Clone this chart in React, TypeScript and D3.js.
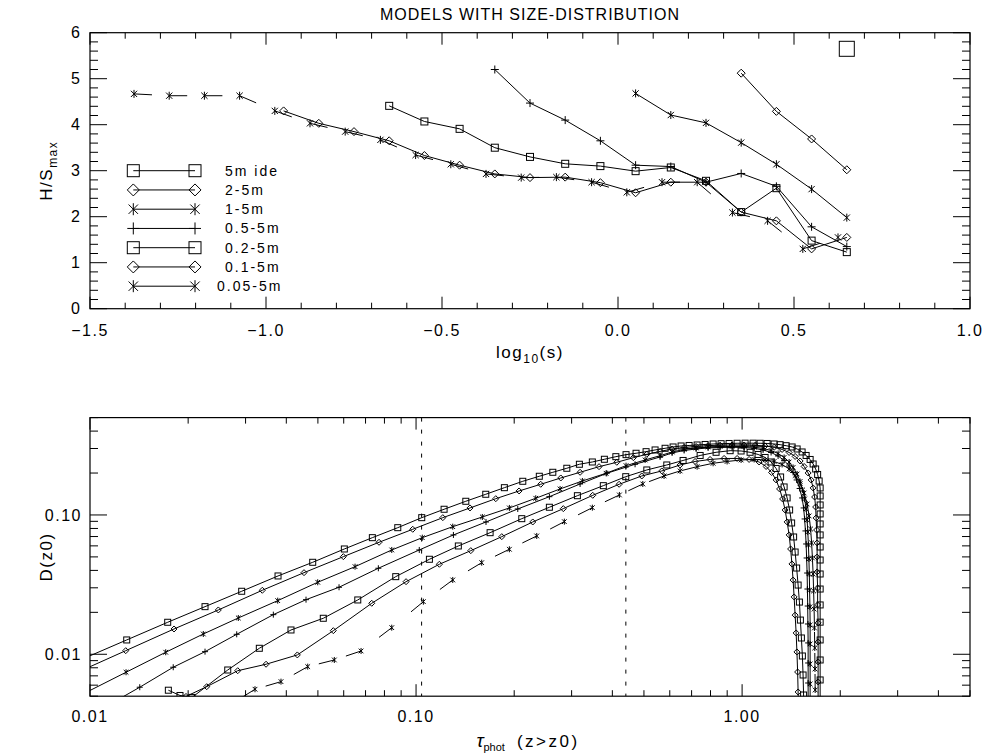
import React from "react";
import * as d3 from "d3";

const TITLE = "MODELS WITH SIZE-DISTRIBUTION";
const legendNames = ["5m ide", "2-5m", "1-5m", "0.5-5m", "0.2-5m", "0.1-5m", "0.05-5m"];
const markerTypes = ["square", "diamond", "asterisk", "plus", "square", "diamond", "asterisk"];

// ---------- top panel: H/S_max vs log10(s)
const top5mIdeX = [0.65];
const top5mIdeY = [5.65];
const top2_5X = [0.35, 0.45, 0.55, 0.65];
const top2_5Y = [5.12, 4.29, 3.69, 3.02];
const top1_5X = [0.05, 0.15, 0.25, 0.35, 0.45, 0.55, 0.65];
const top1_5Y = [4.68, 4.21, 4.04, 3.61, 3.14, 2.6, 1.98];
const top05_5X = [-0.35, -0.25, -0.15, -0.05, 0.05, 0.15, 0.25, 0.35, 0.45, 0.55, 0.65];
const top05_5Y = [5.2, 4.47, 4.1, 3.65, 3.12, 3.09, 2.75, 2.94, 2.66, 1.78, 1.35];
const top02_5X = [-0.65, -0.55, -0.45, -0.35, -0.25, -0.15, -0.05, 0.05, 0.15, 0.25, 0.35, 0.45, 0.55, 0.65];
const top02_5Y = [4.41, 4.07, 3.91, 3.5, 3.3, 3.15, 3.1, 2.99, 3.07, 2.78, 2.1, 2.62, 1.48, 1.23];
const top01_5X = [-0.95, -0.85, -0.75, -0.65, -0.55, -0.45, -0.35, -0.25, -0.15, -0.05, 0.05, 0.15, 0.25, 0.35, 0.45, 0.55, 0.65];
const top01_5Y = [4.3, 4.03, 3.85, 3.65, 3.33, 3.12, 2.93, 2.85, 2.86, 2.74, 2.52, 2.75, 2.75, 2.1, 1.91, 1.3, 1.55];
const top005_5X = [-1.375, -1.275, -1.175, -1.075, -0.975, -0.875, -0.775, -0.675, -0.575, -0.475, -0.375, -0.275, -0.175, -0.075, 0.025, 0.125, 0.225, 0.325, 0.425, 0.525, 0.625];
const top005_5Y = [4.67, 4.63, 4.63, 4.63, 4.3, 4.03, 3.85, 3.67, 3.34, 3.14, 2.93, 2.85, 2.86, 2.75, 2.53, 2.75, 2.75, 2.09, 1.91, 1.3, 1.55];

const topXTickValues = [-1.5, -1.0, -0.5, 0, 0.5, 1.0];
const topXTickLabels = ["\u22121.5", "\u22121.0", "\u22120.5", "0.0", "0.5", "1.0"];
const topYTickValues = [0, 1, 2, 3, 4, 5, 6];
const topYTickLabels = ["0", "1", "2", "3", "4", "5", "6"];

// ---------- bottom panel: D(z0) vs tau_phot  [tau, D]
const bot5mIde = [[0.00945,0.00921],[0.01296,0.01267],[0.01731,0.01697],[0.02253,0.02197],[0.02919,0.02833],[0.03773,0.03649],[0.0482,0.04574],[0.06027,0.057],[0.07345,0.06871],[0.08789,0.08105],[0.1041,0.09563],[0.1219,0.1099],[0.1421,0.1254],[0.1636,0.1408],[0.1866,0.157],[0.2125,0.1745],[0.2388,0.1896],[0.2627,0.2025],[0.29,0.2164],[0.3169,0.2312],[0.3473,0.2401],[0.3781,0.2511],[0.41,0.2621],[0.4406,0.271],[0.4729,0.2773],[0.5076,0.2847],[0.5409,0.2929],[0.5805,0.3011],[0.6142,0.3077],[0.65,0.3128],[0.6878,0.3154],[0.7278,0.318],[0.77,0.3207],[0.8149,0.3233],[0.8622,0.3249],[0.9122,0.326],[0.9653,0.3271],[1.0214,0.3276],[1.0807,0.3276],[1.1356,0.3271],[1.1933,0.326],[1.2537,0.3233],[1.3079,0.3196],[1.3646,0.3143],[1.4237,0.3077],[1.4749,0.2977],[1.5277,0.2833],[1.5716,0.2674],[1.6168,0.2503],[1.6514,0.2323],[1.681,0.2139],[1.7048,0.1953],[1.723,0.1754],[1.7353,0.1563],[1.7353,0.1369],[1.7353,0.118],[1.7353,0.1017],[1.7353,0.0862],[1.7353,0.0719],[1.7353,0.0589],[1.7353,0.0475],[1.7353,0.0377],[1.7353,0.0294],[1.7353,0.0226],[1.7353,0.017],[1.7353,0.01267],[1.7353,0.0091],[1.7353,0.00654],[1.7353,0.0047]];
const bot2_5 = [[0.00945,0.00767],[0.01287,0.01061],[0.0181,0.01519],[0.02475,0.0208],[0.03377,0.0288],[0.04533,0.03853],[0.05984,0.05019],[0.077,0.06368],[0.0977,0.07893],[0.1208,0.09563],[0.1464,0.1123],[0.1756,0.1309],[0.207,0.1487],[0.2412,0.1661],[0.2779,0.1843],[0.3185,0.2025],[0.3641,0.2222],[0.4128,0.2389],[0.464,0.2578],[0.5102,0.2727],[0.5604,0.2857],[0.61,0.2977],[0.664,0.3052],[0.7226,0.3103],[0.7865,0.3144],[0.856,0.317],[0.9318,0.318],[1.0141,0.318],[1.0962,0.3165],[1.1764,0.3128],[1.2537,0.3062],[1.3266,0.2953],[1.3939,0.2809],[1.4543,0.263],[1.5064,0.2441],[1.5497,0.2229],[1.5941,0.2002],[1.6283,0.1784],[1.6514,0.1563],[1.669,0.1346],[1.681,0.1141],[1.6866,0.0952],[1.6925,0.078],[1.6985,0.063],[1.6985,0.0499],[1.6985,0.039],[1.7045,0.0299],[1.7045,0.0226],[1.7105,0.0168],[1.7105,0.01225],[1.7105,0.00881],[1.7105,0.00633],[1.7105,0.00454]];
const bot1_5 = [[0.00945,0.00514],[0.0129,0.00743],[0.01707,0.01034],[0.02226,0.01398],[0.0285,0.01822],[0.03765,0.02426],[0.04994,0.03287],[0.065,0.04255],[0.08424,0.05607],[0.1045,0.06871],[0.1296,0.08241],[0.1597,0.09674],[0.1933,0.1123],[0.2329,0.1318],[0.2765,0.1537],[0.3237,0.1754],[0.3827,0.1992],[0.4406,0.2259],[0.5041,0.2482],[0.5604,0.2665],[0.61,0.2833],[0.664,0.2953],[0.7226,0.3027],[0.7865,0.3077],[0.856,0.3103],[0.9318,0.3113],[1.0141,0.3103],[1.0884,0.3066],[1.1598,0.3001],[1.2272,0.2904],[1.2893,0.2763],[1.3454,0.2587],[1.3939,0.2401],[1.4336,0.2193],[1.4749,0.1969],[1.5064,0.174],[1.5334,0.1512],[1.5551,0.1303],[1.5716,0.1104],[1.5828,0.0921],[1.5905,0.0755],[1.5974,0.0609],[1.6029,0.0483],[1.6074,0.0377],[1.611,0.0289],[1.6144,0.0219],[1.6168,0.0162],[1.6168,0.01186],[1.6168,0.00852],[1.6168,0.00612],[1.6168,0.0044]];
const bot05_5 = [[0.01112,0.00418],[0.01421,0.0058],[0.018,0.00807],[0.02253,0.01044],[0.02818,0.01391],[0.0365,0.01925],[0.04598,0.02466],[0.05805,0.03027],[0.07663,0.04144],[0.1023,0.05607],[0.1302,0.07185],[0.1639,0.08906],[0.2051,0.1104],[0.2564,0.1353],[0.3185,0.1669],[0.3846,0.1992],[0.4696,0.2312],[0.5604,0.2608],[0.61,0.2787],[0.664,0.2904],[0.7226,0.2977],[0.7865,0.3027],[0.856,0.3052],[0.9318,0.3062],[1.0141,0.3052],[1.0884,0.3011],[1.1598,0.2929],[1.2272,0.2809],[1.2893,0.2651],[1.3454,0.2463],[1.3939,0.2247],[1.4336,0.2019],[1.4698,0.1784],[1.5012,0.1549],[1.5277,0.1325],[1.5443,0.1123],[1.5551,0.0936],[1.5641,0.0768],[1.5716,0.0619],[1.5772,0.0491],[1.5828,0.0383],[1.5861,0.0294],[1.5894,0.0222],[1.5917,0.0165],[1.5941,0.01206],[1.5941,0.00866],[1.5941,0.00622],[1.5941,0.00447]];
const bot02_5 = [[0.01739,0.00552],[0.01888,0.00506],[0.02055,0.0049],[0.02645,0.00771],[0.03306,0.01104],[0.04135,0.01494],[0.05194,0.01813],[0.06626,0.02454],[0.08664,0.03607],[0.1099,0.04808],[0.1348,0.0599],[0.1687,0.07462],[0.211,0.09406],[0.2564,0.1136],[0.3125,0.1375],[0.3753,0.1623],[0.4397,0.1883],[0.5102,0.2104],[0.5875,0.2285],[0.6592,0.2462],[0.7435,0.2674],[0.8321,0.2818],[0.9189,0.2894],[0.9929,0.2879],[1.058,0.2818],[1.1196,0.2719],[1.1764,0.2587],[1.2272,0.2401],[1.2716,0.2157],[1.3125,0.1874],[1.3454,0.1589],[1.3743,0.1325],[1.3988,0.1086],[1.4187,0.0876],[1.4388,0.0695],[1.4543,0.0542],[1.4698,0.0416],[1.4852,0.0314],[1.4989,0.0237],[1.5094,0.0176],[1.52,0.01309],[1.5307,0.00972],[1.5382,0.0071],[1.5438,0.0051],[1.5497,0.00367]];
const bot01_5 = [[0.0197,0.00498],[0.0228,0.00585],[0.02838,0.00762],[0.03467,0.00848],[0.04324,0.00989],[0.05575,0.01477],[0.07313,0.02323],[0.09318,0.0332],[0.1179,0.04427],[0.1472,0.05543],[0.1832,0.06986],[0.228,0.08906],[0.2829,0.111],[0.3483,0.1384],[0.4196,0.1661],[0.4924,0.1905],[0.5672,0.207],[0.6454,0.2285],[0.7175,0.2421],[0.7976,0.2503],[0.8806,0.2545],[0.9653,0.2545],[1.0507,0.2503],[1.1275,0.2401],[1.1847,0.2229],[1.2314,0.2019],[1.2716,0.1784],[1.3032,0.1537],[1.3313,0.1303],[1.3549,0.1086],[1.3743,0.0891],[1.3939,0.0719],[1.4087,0.057],[1.4218,0.0445],[1.4336,0.0341],[1.4439,0.0258],[1.4543,0.0191],[1.4646,0.01422],[1.4729,0.01039],[1.4802,0.00746],[1.4852,0.00536],[1.4907,0.00385]];
const bot005_5 = [[0.02595,0.00412],[0.03207,0.00561],[0.03853,0.00636],[0.04654,0.00815],[0.05615,0.0091],[0.06782,0.01056],[0.08424,0.01552],[0.1053,0.02385],[0.1296,0.03415],[0.159,0.04545],[0.1933,0.05673],[0.2345,0.07067],[0.285,0.08952],[0.3473,0.1128],[0.4204,0.1392],[0.496,0.1669],[0.5763,0.1905],[0.6454,0.207],[0.7278,0.2222],[0.8149,0.235],[0.8995,0.2421],[0.9929,0.2482],[1.0884,0.2503],[1.1764,0.2482],[1.2537,0.2421],[1.3266,0.2304],[1.3938,0.2139],[1.4543,0.192],[1.5065,0.1683],[1.5497,0.1438],[1.5828,0.1199],[1.6051,0.0984],[1.6222,0.0793],[1.6338,0.063],[1.643,0.0491],[1.6512,0.0377],[1.6571,0.0285],[1.663,0.0211],[1.6668,0.01545],[1.6705,0.0111],[1.673,0.00784],[1.6755,0.00554],[1.6781,0.00385]];

const botXTickValues = [0.01, 0.1, 1];
const botXTickLabels = ["0.01", "0.10", "1.00"];
const botYTickValues = [0.01, 0.1];
const botYTickLabels = ["0.01", "0.10"];
const dottedTau = [0.104, 0.44];

// ---------- layout
const W = 987, H = 756;
const L = 90, R = 970;
const TT = 32.7, TB = 308.7;
const BT = 417.6, BB = 696.2;
const FONT = "'Liberation Sans', Arial, sans-serif";

const xTop = d3.scaleLinear().domain([-1.5, 1.0]).range([L, R]);
const yTop = d3.scaleLinear().domain([0, 6]).range([TB, TT]);
const xBot = d3.scaleLog().domain([0.01, 5]).range([L, R]);
const yBot = d3.scaleLog().domain([0.005, 0.5]).range([BB, BT]);

function Marker({ type, x, y, s }: { type: string; x: number; y: number; s: number }) {
  const h = s / 2;
  const st = { stroke: "#000", strokeWidth: 1, fill: "none" } as any;
  if (type === "square") return <rect x={x - h} y={y - h} width={s} height={s} {...st} />;
  if (type === "diamond")
    return <path d={`M${x},${y - h}L${x + h},${y}L${x},${y + h}L${x - h},${y}Z`} {...st} />;
  if (type === "plus") return <path d={`M${x - h},${y}H${x + h}M${x},${y - h}V${y + h}`} {...st} />;
  const a = h * 0.78;
  return (
    <path
      d={`M${x},${y - h}V${y + h}M${x - a},${y - a}L${x + a},${y + a}M${x - a},${y + a}L${x + a},${y - a}`}
      {...st}
    />
  );
}

function Series({ pts, type, size, dashed, dashAtEnd, dashLen }: any) {
  const line = d3.line();
  return (
    <g>
      {dashed ? (
        pts.slice(0, -1).map((p: number[], i: number) => {
          const q = pts[i + 1];
          const a = dashAtEnd ? q : p;
          const b = dashAtEnd ? p : q;
          return (
            <line key={i} x1={a[0]} y1={a[1]} x2={b[0]} y2={b[1]} stroke="#000" strokeWidth={1}
              strokeDasharray={`${dashLen} 1000`} />
          );
        })
      ) : (
        <path d={line(pts as any) || ""} fill="none" stroke="#000" strokeWidth={1} />
      )}
      {pts.map((p: number[], i: number) => (
        <Marker key={i} type={type} x={p[0]} y={p[1]} s={size} />
      ))}
    </g>
  );
}

export default function App() {
  const topData = [
    [top5mIdeX, top5mIdeY],
    [top2_5X, top2_5Y],
    [top1_5X, top1_5Y],
    [top05_5X, top05_5Y],
    [top02_5X, top02_5Y],
    [top01_5X, top01_5Y],
    [top005_5X, top005_5Y],
  ];
  const topSizes = [15, 8, 8, 8, 7, 8, 8];
  const botData = [bot5mIde, bot2_5, bot1_5, bot05_5, bot02_5, bot01_5, bot005_5];
  const botSizes = [6, 6, 6, 6, 6, 6, 6];

  const topXMinor = d3.range(-15, 11).map((i) => i / 10);
  const topYMinor = d3.range(0, 31).map((i) => i / 5);
  const botXMinor = xBot.ticks();
  const botYMinor = yBot.ticks();

  const tickStyle = { stroke: "#000", strokeWidth: 1 };
  const isMaj = (arr: number[], v: number) => arr.some((m) => Math.abs(m - v) < 1e-9);

  const xTicks = (scale: any, vals: number[], majors: number[], T: number, B: number) =>
    vals.map((v, i) => {
      const x = scale(v);
      const len = isMaj(majors, v) ? 12 : 6;
      return (
        <g key={"xt" + i}>
          <line x1={x} x2={x} y1={B} y2={B - len} {...tickStyle} />
          <line x1={x} x2={x} y1={T} y2={T + len} {...tickStyle} />
        </g>
      );
    });
  const yTicks = (scale: any, vals: number[], majors: number[]) =>
    vals.map((v, i) => {
      const y = scale(v);
      const len = isMaj(majors, v) ? 17 : 8;
      return (
        <g key={"yt" + i}>
          <line x1={L} x2={L + len} y1={y} y2={y} {...tickStyle} />
          <line x1={R} x2={R - len} y1={y} y2={y} {...tickStyle} />
        </g>
      );
    });

  const legendY0 = 170.7, legendDY = 19.25;

  return (
    <svg width={W} height={H} style={{ position: "absolute", left: 0, top: 0, background: "#fff" }}
      fontFamily={FONT}>
      <defs>
        <clipPath id="clipTop"><rect x={L} y={TT} width={R - L} height={TB - TT} /></clipPath>
        <clipPath id="clipBot"><rect x={L} y={BT} width={R - L} height={BB - BT} /></clipPath>
      </defs>
      <rect x={0} y={0} width={W} height={H} fill="#fff" />
      <text x={530} y={20} textAnchor="middle" fontSize={16} letterSpacing={1}>{TITLE}</text>

      {/* ---------- TOP PANEL ---------- */}
      <g clipPath="url(#clipTop)">
        {topData.map((d, k) => {
          const pts = d[0].map((xv: number, i: number) => [xTop(xv), yTop(d[1][i])]);
          return (
            <Series key={k} pts={pts} type={markerTypes[k]} size={topSizes[k]}
              dashed={k === 6} dashAtEnd={false} dashLen={18} />
          );
        })}
      </g>
      {xTicks(xTop, topXMinor, topXTickValues, TT, TB)}
      {yTicks(yTop, topYMinor, topYTickValues)}
      <rect x={L} y={TT} width={R - L} height={TB - TT} fill="none" stroke="#000" strokeWidth={1.2} />
      {topXTickValues.map((v, i) => (
        <text key={"txl" + i} x={xTop(v)} y={TB + 27} textAnchor="middle" fontSize={16} letterSpacing={1.5}>
          {topXTickLabels[i]}
        </text>
      ))}
      {topYTickValues.map((v, i) => (
        <text key={"tyl" + i} x={L - 10} y={yTop(v)} dy="0.36em" textAnchor="end" fontSize={16}>
          {topYTickLabels[i]}
        </text>
      ))}
      <text x={530} y={358} textAnchor="middle" fontSize={17} letterSpacing={1.5}>
        log<tspan dy={5} fontSize={12}>10</tspan><tspan dy={-5}>(s)</tspan>
      </text>
      <text transform={`translate(52,${(TT + TB) / 2}) rotate(-90)`} textAnchor="middle" fontSize={17} letterSpacing={1.5}>
        H/S<tspan dy={5} fontSize={12}>max</tspan>
      </text>
      {/* legend */}
      {legendNames.map((name, i) => {
        const y = legendY0 + i * legendDY;
        const x1 = 133.3, x2 = 195;
        return (
          <g key={"lg" + i}>
            <line x1={x1} x2={x2} y1={y} y2={y} stroke="#000" strokeWidth={1} />
            <Marker type={markerTypes[i]} x={x1} y={y} s={12} />
            <Marker type={markerTypes[i]} x={x2} y={y} s={12} />
            <text x={i === 6 ? 217 : 225} y={y} dy="0.36em" fontSize={14} letterSpacing={2}>{name}</text>
          </g>
        );
      })}

      {/* ---------- BOTTOM PANEL ---------- */}
      <g clipPath="url(#clipBot)">
        {dottedTau.map((t, i) => (
          <line key={"dt" + i} x1={xBot(t)} x2={xBot(t)} y1={BT} y2={BB} stroke="#000" strokeWidth={1}
            strokeDasharray="4 8" />
        ))}
        {botData.map((d, k) => {
          const pts = d.map((p) => [xBot(p[0]), yBot(p[1])]);
          return (
            <Series key={k} pts={pts} type={markerTypes[k]} size={botSizes[k]}
              dashed={k === 6} dashAtEnd={true} dashLen={16} />
          );
        })}
      </g>
      {xTicks(xBot, botXMinor, botXTickValues, BT, BB)}
      {yTicks(yBot, botYMinor, botYTickValues)}
      <rect x={L} y={BT} width={R - L} height={BB - BT} fill="none" stroke="#000" strokeWidth={1.2} />
      {botXTickValues.map((v, i) => (
        <text key={"bxl" + i} x={xBot(v)} y={BB + 26} textAnchor="middle" fontSize={16} letterSpacing={1.5}>
          {botXTickLabels[i]}
        </text>
      ))}
      {botYTickValues.map((v, i) => (
        <text key={"byl" + i} x={L - 8} y={yBot(v)} dy="0.36em" textAnchor="end" fontSize={16} letterSpacing={1.5}>
          {botYTickLabels[i]}
        </text>
      ))}
      <text x={528} y={747} textAnchor="middle" fontSize={17}>
        <tspan fontStyle="italic" fontSize={19}>τ</tspan>
        <tspan dy={4} fontSize={11}>phot</tspan>
        <tspan dy={-4} dx={12} letterSpacing={2.5}>(z&gt;z0)</tspan>
      </text>
      <text transform={`translate(52,${(BT + BB) / 2}) rotate(-90)`} textAnchor="middle" fontSize={17} letterSpacing={1.5}>
        D(z0)
      </text>
    </svg>
  );
}
